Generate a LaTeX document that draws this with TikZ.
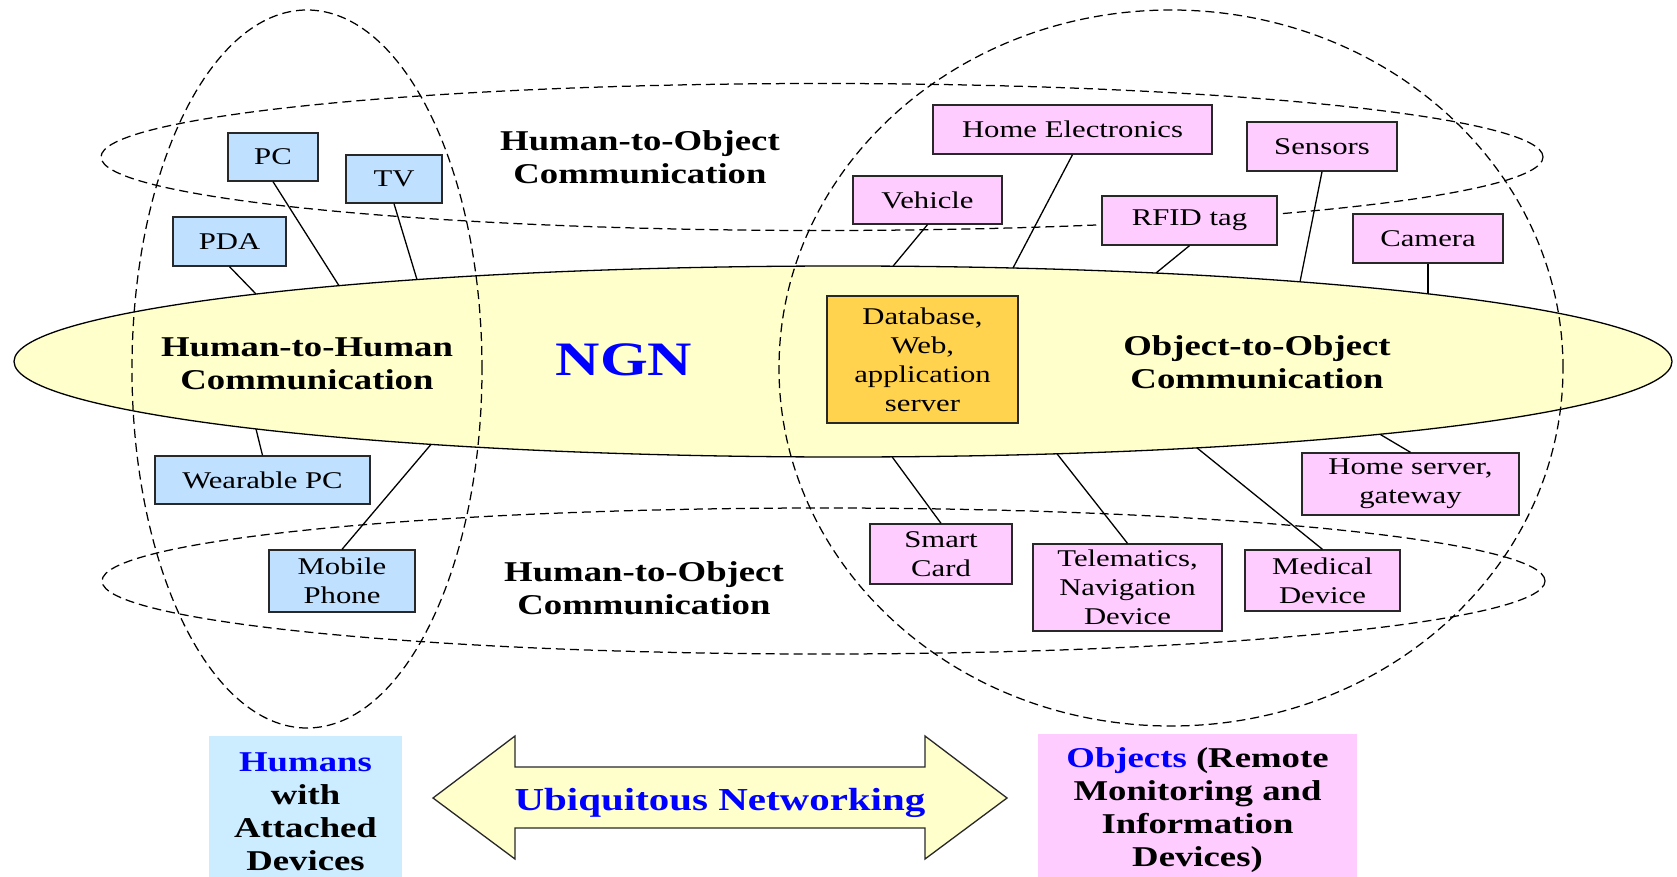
\documentclass[tikz,border=0pt]{standalone}
\usepackage{fontspec}
\setmainfont{Liberation Serif}[FakeStretch=1.28]
\usetikzlibrary{shapes.geometric}
\definecolor{ngnyellow}{RGB}{255,255,204}
\definecolor{humblue}{RGB}{192,224,255}
\definecolor{objpink}{RGB}{255,204,255}
\definecolor{dbgold}{RGB}{255,211,77}
\definecolor{humbox}{RGB}{204,236,255}
\definecolor{txtblue}{RGB}{0,0,255}
\definecolor{edgegray}{RGB}{40,40,40}
\begin{document}
\begin{tikzpicture}[x=1pt,y=-1pt,
  hbox/.style={draw=edgegray, line width=1.3pt, fill=humblue, inner sep=0pt, align=center, font=\fontsize{24}{29}\selectfont},
  obox/.style={hbox, fill=objpink},
  lbl/.style={align=center, inner sep=0pt, font=\fontsize{28.7}{33}\selectfont\bfseries},
  dsh/.style={ellipse, draw=black, line width=1.25pt, dash pattern=on 9pt off 5pt, inner sep=0pt},
  link/.style={draw=black, line width=1.3pt},
  plate/.style={inner sep=0pt},
]
\useasboundingbox[fill=white] (0,0) rectangle (1677,877);

% NGN ellipse
\node[ellipse, draw=black, fill=ngnyellow, line width=1.3pt, inner sep=0pt,
      minimum width=1658pt, minimum height=191pt] (ngn) at (843,361.5) {};

% dashed groups
\node[dsh, minimum width=350pt, minimum height=718pt] (humans) at (307,369) {};
\node[dsh, minimum width=784pt, minimum height=716pt] (objects) at (1171,368) {};
\node[dsh, minimum width=1442pt, minimum height=147pt] (htotop) at (822,157) {};
\node[dsh, minimum width=1443pt, minimum height=146pt] (htobot) at (823.5,581) {};

% human devices
\node[hbox, minimum width=90pt, minimum height=48pt] (pc) at (273,157) {PC};
\node[hbox, minimum width=96pt, minimum height=48pt] (tv) at (394,179) {TV};
\node[hbox, minimum width=113pt, minimum height=49pt] (pda) at (229.5,241.5) {PDA};
\node[hbox, minimum width=215pt, minimum height=48pt] (wpc) at (262.5,480) {Wearable PC};
\node[hbox, minimum width=146pt, minimum height=62pt] (mob) at (342,581) {Mobile\\Phone};

% object devices
\node[obox, minimum width=279pt, minimum height=49pt] (home) at (1072.5,129.5) {Home Electronics};
\node[obox, minimum width=149pt, minimum height=48pt] (veh) at (927.5,200) {Vehicle};
\node[obox, minimum width=175pt, minimum height=49pt] (rfid) at (1189.5,220.5) {RFID tag};
\node[obox, minimum width=150pt, minimum height=49pt] (sens) at (1322,146.5) {Sensors};
\node[obox, minimum width=150pt, minimum height=49pt] (cam) at (1428,238.5) {Camera};
\node[hbox, fill=dbgold, minimum width=191pt, minimum height=127pt] (db) at (922.5,359.5) {Database,\\Web,\\application\\server};
\node[obox, minimum width=142pt, minimum height=60pt] (smart) at (941,554) {Smart\\Card};
\node[obox, minimum width=189pt, minimum height=87pt] (tele) at (1127.5,587.5) {Telematics,\\Navigation\\Device};
\node[obox, minimum width=155pt, minimum height=61pt] (med) at (1322.5,580.5) {Medical\\Device};
\node[obox, minimum width=217pt, minimum height=62pt] (hsrv) at (1410.5,484) {Home server,\\gateway};

% connector ends on the NGN ellipse
\coordinate (pdaE) at (256,294);
\coordinate (pcE) at (339,285.7);
\coordinate (tvE) at (417,279.6);
\coordinate (wpcE) at (256,429);
\coordinate (mobE) at (431,444.4);
\coordinate (vehE) at (893,266.2);
\coordinate (homeE) at (1013,268);
\coordinate (rfidE) at (1156,273);
\coordinate (sensE) at (1300,281.8);
\coordinate (camE) at (1428,293.8);
\coordinate (smartE) at (892,456.7);
\coordinate (teleE) at (1057,453.8);
\coordinate (medE) at (1197,447.9);
\coordinate (hsrvE) at (1380,434.3);

\draw[link] (pda.south) -- (pdaE);
\draw[link] (pc.south) -- (pcE);
\draw[link] (tv.south) -- (tvE);
\draw[link] (wpc.north) -- (wpcE);
\draw[link] (mob.north) -- (mobE);
\draw[link] (veh.south) -- (vehE);
\draw[link] (home.south) -- (homeE);
\draw[link] (rfid.south) -- (rfidE);
\draw[link] (sens.south) -- (sensE);
\draw[link] (cam.south) -- (camE);
\draw[link] (smart.north) -- (smartE);
\draw[link] (tele.north) -- (teleE);
\draw[link] (med.north) -- (medE);
\draw[link] (hsrv.north) -- (hsrvE);

% labels
\node[lbl] (htoTopLbl) at (640,157.5) {Human-to-Object\\Communication};
\node[lbl] (hthLbl) at (307,364) {Human-to-Human\\Communication};
\node[lbl] (otoLbl) at (1257,362) {Object-to-Object\\Communication};
\node[lbl] (htoBotLbl) at (644,588) {Human-to-Object\\Communication};
\node[lbl, text=txtblue, font=\fontsize{48}{50}\selectfont\bfseries] (ngnLbl) at (624,360) {NGN};

% bottom row
\node[plate, fill=humbox, minimum width=193pt, minimum height=141pt] (humBox) at (305.5,806.5) {};
\node[lbl] (humLbl) at (305.5,811.5)
  {\textcolor{txtblue}{Humans}\\with\\Attached\\Devices};
\node[plate, fill=objpink, minimum width=319pt, minimum height=143pt] (objBox) at (1197.5,805.5) {};
\node[lbl] (objLbl) at (1197.5,810.5)
  {\textcolor{txtblue}{Objects} (Remote\\Monitoring and\\Information\\Devices)};

\draw[fill=ngnyellow, draw=edgegray, line width=1.3pt]
  (433,798) -- (515,736) -- (515,767) -- (925,767) -- (925,736) -- (1007,798)
  -- (925,859) -- (925,828) -- (515,828) -- (515,859) -- cycle;
\node[lbl, text=txtblue, font=\fontsize{32}{34}\selectfont\bfseries] (ubi) at (720,803) {Ubiquitous Networking};
\end{tikzpicture}
\end{document}
